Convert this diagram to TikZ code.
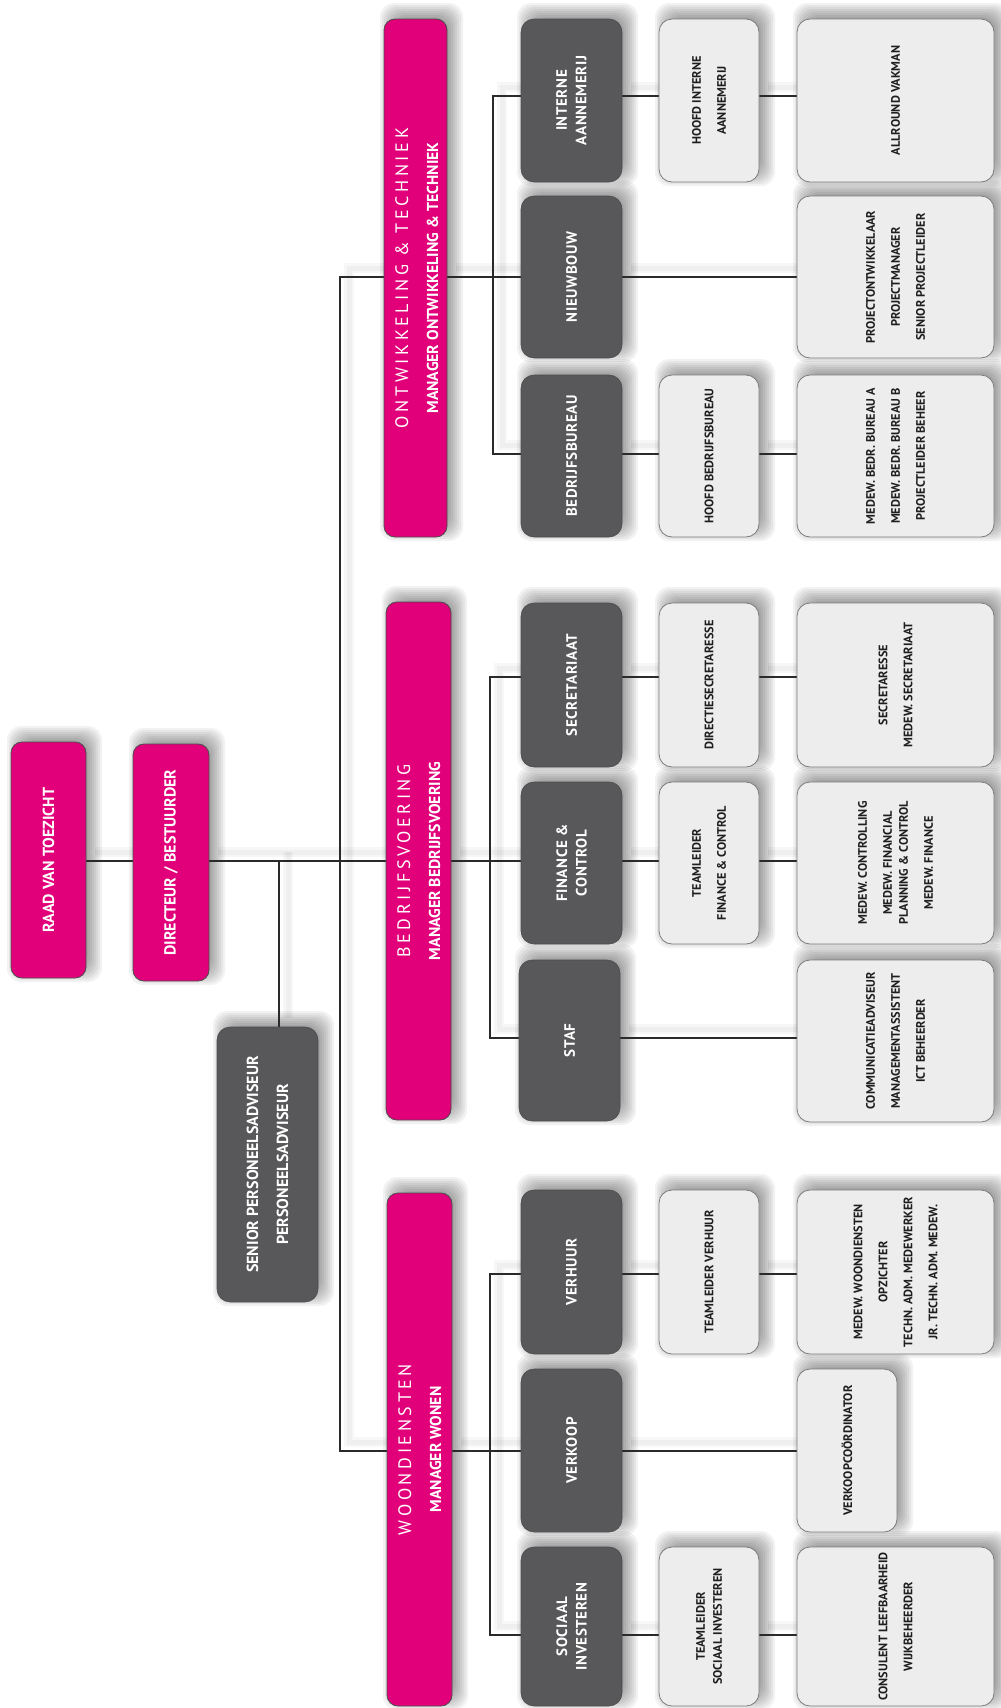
\documentclass[tikz,border=0pt]{standalone}
\usepackage{fontspec}
\setmainfont{PT Sans}
\usetikzlibrary{calc}
\pgfdeclarelayer{background}
\pgfsetlayers{background,main}
\definecolor{mag}{HTML}{E2007A}
\definecolor{dgray}{HTML}{58585A}
\definecolor{lgray}{HTML}{EDEDED}
\definecolor{lborder}{HTML}{7B7B7B}
\definecolor{txtc}{HTML}{1E1E1E}
\definecolor{linec}{HTML}{2A2A2A}
% box + soft shadow
\newcommand\bxbase[5]{%
  \node[#1, minimum width=#4pt, minimum height=#5pt, anchor=north west] (#2) at (#3) {};
  \begin{pgfonlayer}{background}
  \foreach \i/\j/\k/\l in {10/-2/2/-10, 8/-4/4/-8, 6/-6/6/-6, 4/-8/8/-4, 2/-10/10/-2, 0/-12/12/0, -2/-14/14/2, -4/-16/16/4}
    \fill[black, opacity=0.05, rounded corners=14pt] ([shift={(\i,\j)}]#2.north west) rectangle ([shift={(\k,\l)}]#2.south east);
  \end{pgfonlayer}}
\newcommand\bx[7][]{%
  \bxbase{#3}{#2}{#4}{#5}{#6}%
  \node[#3txt, rotate=90, #1] (#2-t) at (#2.center) {#7};}
\newcommand\dept[6]{%
  \bxbase{magbox}{#1}{#2}{#3}{#4}%
  \node[titletxt, rotate=90] (#1-a) at ([xshift=24pt]#1.west) {#5};
  \node[subtxt, rotate=90] (#1-b) at ([xshift=54pt]#1.west) {#6};}
\begin{document}
\begin{tikzpicture}[x=1pt,y=-1pt,
  magbox/.style={fill=mag, draw=black!70, line width=0.8pt, rounded corners=11pt, inner sep=0pt, outer sep=0pt},
  darkbox/.style={fill=dgray, draw=dgray!85!black, line width=0.6pt, rounded corners=13pt, inner sep=0pt, outer sep=0pt},
  lightbox/.style={fill=lgray, draw=lborder, line width=0.8pt, rounded corners=13pt, inner sep=0pt, outer sep=0pt},
  magboxtxt/.style={text=white, align=center, font=\bfseries\fontsize{16pt}{30pt}\selectfont, inner sep=0pt},
  darkboxtxt/.style={text=white, align=center, font=\bfseries\fontsize{15pt}{19.5pt}\selectfont\addfontfeature{LetterSpace=4}, inner sep=0pt},
  lightboxtxt/.style={text=txtc, align=center, font=\bfseries\fontsize{12.3pt}{25pt}\selectfont, inner sep=0pt},
  titletxt/.style={text=white, font=\fontsize{18pt}{18pt}\selectfont\addfontfeature{LetterSpace=20}, inner sep=0pt, anchor=base},
  subtxt/.style={text=white, font=\bfseries\fontsize{15.8pt}{15.8pt}\selectfont, inner sep=0pt, anchor=base},
  conn/.style={draw=linec, line width=1.1pt,
    preaction={draw=black, opacity=0.03, line width=10pt, transform canvas={shift={(9pt,9pt)}}},
    preaction={draw=black, opacity=0.03, line width=5pt, transform canvas={shift={(9pt,9pt)}}}}
]
\useasboundingbox (0,0) rectangle (1001,1708);
\begin{pgfonlayer}{background}
\fill[white] (0,0) rectangle (1001,1708);
\end{pgfonlayer}

% top level
\bx{raad}{magbox}{11,742}{75}{236}{RAAD VAN TOEZICHT}
\bx{dir}{magbox}{133,744}{76}{237}{DIRECTEUR / BESTUURDER}
\bx[font=\bfseries\fontsize{16pt}{30pt}\selectfont]{sen}{darkbox}{217,1027}{101}{275}{SENIOR PERSONEELSADVISEUR\\PERSONEELSADVISEUR}

% departments
\dept{ot}{384,19}{63}{518}{ONTWIKKELING \& TECHNIEK}{MANAGER ONTWIKKELING \& TECHNIEK}
\dept{bv}{386,602}{65}{518}{BEDRIJFSVOERING}{MANAGER BEDRIJFSVOERING}
\dept{wd}{387,1193}{65}{513}{WOONDIENSTEN}{MANAGER WONEN}

% Ontwikkeling & Techniek
\bx{int}{darkbox}{521,19}{101}{163}{INTERNE\\AANNEMERIJ}
\bx{nb}{darkbox}{521,196}{101}{162}{NIEUWBOUW}
\bx{bb}{darkbox}{521,375}{101}{162}{BEDRIJFSBUREAU}
\bx{hint}{lightbox}{659,19}{100}{163}{HOOFD INTERNE\\AANNEMERIJ}
\bx{hbb}{lightbox}{659,375}{100}{162}{HOOFD BEDRIJFSBUREAU}
\bx{allr}{lightbox}{797,19}{197}{163}{ALLROUND VAKMAN}
\bx{proj}{lightbox}{797,196}{197}{162}{PROJECTONTWIKKELAAR\\PROJECTMANAGER\\SENIOR PROJECTLEIDER}
\bx{medb}{lightbox}{797,375}{197}{162}{MEDEW. BEDR. BUREAU A\\MEDEW. BEDR. BUREAU B\\PROJECTLEIDER BEHEER}

% Bedrijfsvoering
\bx{sec}{darkbox}{521,603}{101}{164}{SECRETARIAAT}
\bx{fc}{darkbox}{521,782}{101}{162}{FINANCE \&\\CONTROL}
\bx{staf}{darkbox}{519,960}{101}{161}{STAF}
\bx{dsec}{lightbox}{659,603}{100}{164}{DIRECTIESECRETARESSE}
\bx{tlfc}{lightbox}{659,782}{100}{162}{TEAMLEIDER\\FINANCE \& CONTROL}
\bx{secr}{lightbox}{797,603}{197}{164}{SECRETARESSE\\MEDEW. SECRETARIAAT}
\bx{medc}{lightbox}{797,782}{197}{162}{MEDEW. CONTROLLING\\MEDEW. FINANCIAL\\[-9pt]PLANNING \& CONTROL\\MEDEW. FINANCE}
\bx{comm}{lightbox}{797,960}{197}{162}{COMMUNICATIEADVISEUR\\MANAGEMENTASSISTENT\\ICT BEHEERDER}

% Woondiensten
\bx{verh}{darkbox}{521,1190}{101}{164}{VERHUUR}
\bx{verk}{darkbox}{521,1369}{101}{163}{VERKOOP}
\bx{soc}{darkbox}{521,1547}{101}{159}{SOCIAAL\\INVESTEREN}
\bx{tlv}{lightbox}{659,1190}{100}{164}{TEAMLEIDER VERHUUR}
\bx{tlsi}{lightbox}{659,1547}{100}{159}{TEAMLEIDER\\[-8pt]SOCIAAL INVESTEREN}
\bx{medw}{lightbox}{797,1190}{197}{164}{MEDEW. WOONDIENSTEN\\OPZICHTER\\TECHN. ADM. MEDEWERKER\\JR. TECHN. ADM. MEDEW.}
\bx{vkc}{lightbox}{797,1369}{100}{163}{VERKOOPCOÖRDINATOR}
\bx{cons}{lightbox}{797,1547}{197}{159}{CONSULENT LEEFBAARHEID\\WIJKBEHEERDER}

% connector coordinates
\coordinate (tr) at (340,0);
\coordinate (sp) at (279,0);
\coordinate (b1) at (493,0);
\coordinate (b2) at (490,0);
\coordinate (b3) at (490,0);
\coordinate (rm) at (0,861);
\coordinate (r1) at (0,96);
\coordinate (r2) at (0,277);
\coordinate (r3) at (0,454);
\coordinate (r4) at (0,677);
\coordinate (r5) at (0,861);
\coordinate (r6) at (0,1038);
\coordinate (r7) at (0,1274);
\coordinate (r8) at (0,1451);
\coordinate (r9) at (0,1635);

\begin{pgfonlayer}{background}
\draw[conn] (raad.east |- rm) -- (dir.west |- rm);
\draw[conn] (dir.east |- rm) -- (bv.west |- rm);
\draw[conn] (sp |- rm) -- (sp |- sen.north);
\draw[conn] (ot.west |- r2) -- (tr |- r2) -- (tr |- r8) -- (wd.west |- r8);
% O&T
\draw[conn] (ot.east |- r2) -- (nb.west |- r2);
\draw[conn] (int.west |- r1) -- (b1 |- r1) -- (b1 |- r3) -- (bb.west |- r3);
\draw[conn] (int.east |- r1) -- (hint.west |- r1);
\draw[conn] (hint.east |- r1) -- (allr.west |- r1);
\draw[conn] (nb.east |- r2) -- (proj.west |- r2);
\draw[conn] (bb.east |- r3) -- (hbb.west |- r3);
\draw[conn] (hbb.east |- r3) -- (medb.west |- r3);
% BV
\draw[conn] (bv.east |- r5) -- (fc.west |- r5);
\draw[conn] (sec.west |- r4) -- (b2 |- r4) -- (b2 |- r6) -- (staf.west |- r6);
\draw[conn] (sec.east |- r4) -- (dsec.west |- r4);
\draw[conn] (dsec.east |- r4) -- (secr.west |- r4);
\draw[conn] (fc.east |- r5) -- (tlfc.west |- r5);
\draw[conn] (tlfc.east |- r5) -- (medc.west |- r5);
\draw[conn] (staf.east |- r6) -- (comm.west |- r6);
% WD
\draw[conn] (wd.east |- r8) -- (verk.west |- r8);
\draw[conn] (verh.west |- r7) -- (b3 |- r7) -- (b3 |- r9) -- (soc.west |- r9);
\draw[conn] (verh.east |- r7) -- (tlv.west |- r7);
\draw[conn] (tlv.east |- r7) -- (medw.west |- r7);
\draw[conn] (verk.east |- r8) -- (vkc.west |- r8);
\draw[conn] (soc.east |- r9) -- (tlsi.west |- r9);
\draw[conn] (tlsi.east |- r9) -- (cons.west |- r9);
\end{pgfonlayer}
\end{tikzpicture}
\end{document}
